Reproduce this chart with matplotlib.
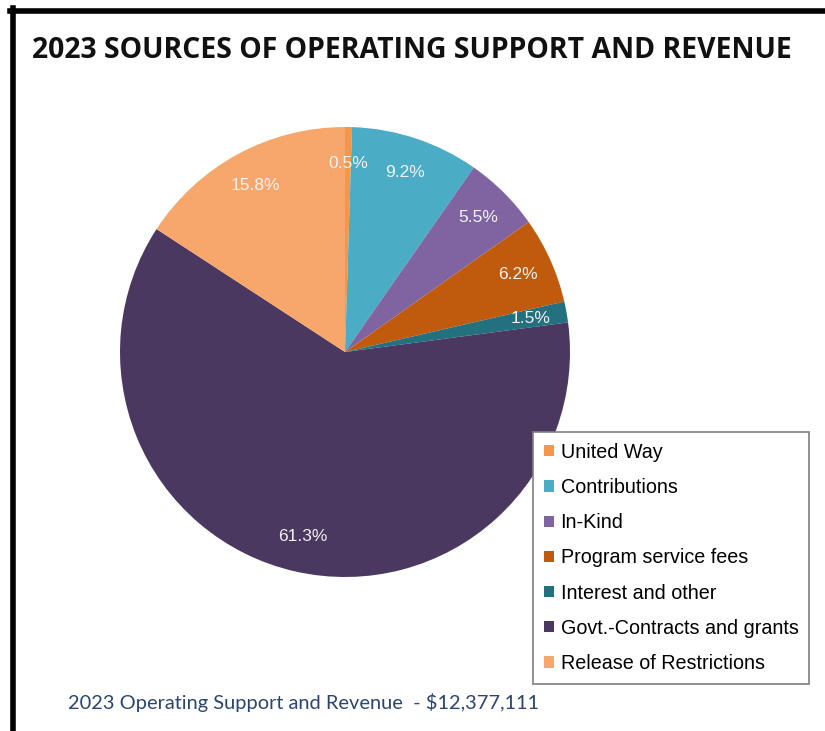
import matplotlib.pyplot as plt
from matplotlib.lines import Line2D

# data
categories = ['United Way', 'Contributions', 'In-Kind', 'Program service fees',
              'Interest and other', 'Govt.-Contracts and grants', 'Release of Restrictions']
shares = [0.5, 9.2, 5.5, 6.2, 1.5, 61.3, 15.8]
colors = ['#F79646', '#4BACC6', '#8064A2', '#C05A0C', '#23707F', '#4B3860', '#F8A76C']

title = '2023 SOURCES OF OPERATING SUPPORT AND REVENUE'
footer = '2023 Operating Support and Revenue  - $12,377,111'

W, H = 825, 731
fig = plt.figure(figsize=(W / 100, H / 100), dpi=100)

# pie axes: centre (345, 352) px, radius 225 px
cx, cy, r = 345, 352, 225
ax = fig.add_axes([(cx - r) / W, 1 - (cy + r) / H, 2 * r / W, 2 * r / H])
wedges, texts, autotexts = ax.pie(
    shares, colors=colors, startangle=90, counterclock=False,
    autopct='%1.1f%%', pctdistance=0.84,
    wedgeprops=dict(linewidth=0),
    textprops=dict(color='#F2F2F2', fontsize=12.5, family='Liberation Sans'))
ax.set_xlim(-1, 1)
ax.set_ylim(-1, 1)
ax.set_aspect('equal')

fig.text(412 / W, 1 - 50 / H, title, ha='center', va='center',
         fontsize=20.4, fontweight='bold', family='Open Sans', color='#111111')

fig.text(68 / W, 1 - 703 / H, footer, ha='left', va='center',
         fontsize=14.4, family='Lato', color='#2B4470')

leg = fig.legend(wedges, categories, loc='upper left',
                 bbox_to_anchor=(533 / W, 1 - 432 / H), bbox_transform=fig.transFigure,
                 prop=dict(family='Liberation Sans', size=14.2),
                 handlelength=0.5, handleheight=0.5, handletextpad=0.35,
                 labelspacing=0.82, borderpad=0.55, borderaxespad=0,
                 fancybox=False, framealpha=1, edgecolor='#7F7F7F')
leg.get_frame().set_linewidth(1.2)

# black frame on left and top
fig.add_artist(Line2D([12.5 / W, 12.5 / W], [0, 1 - 8 / H], color='black',
                      linewidth=4, transform=fig.transFigure))
fig.add_artist(Line2D([10 / W, 1], [1 - 10.5 / H, 1 - 10.5 / H], color='black',
                      linewidth=4, transform=fig.transFigure))

fig.savefig('out.png', dpi=100)
